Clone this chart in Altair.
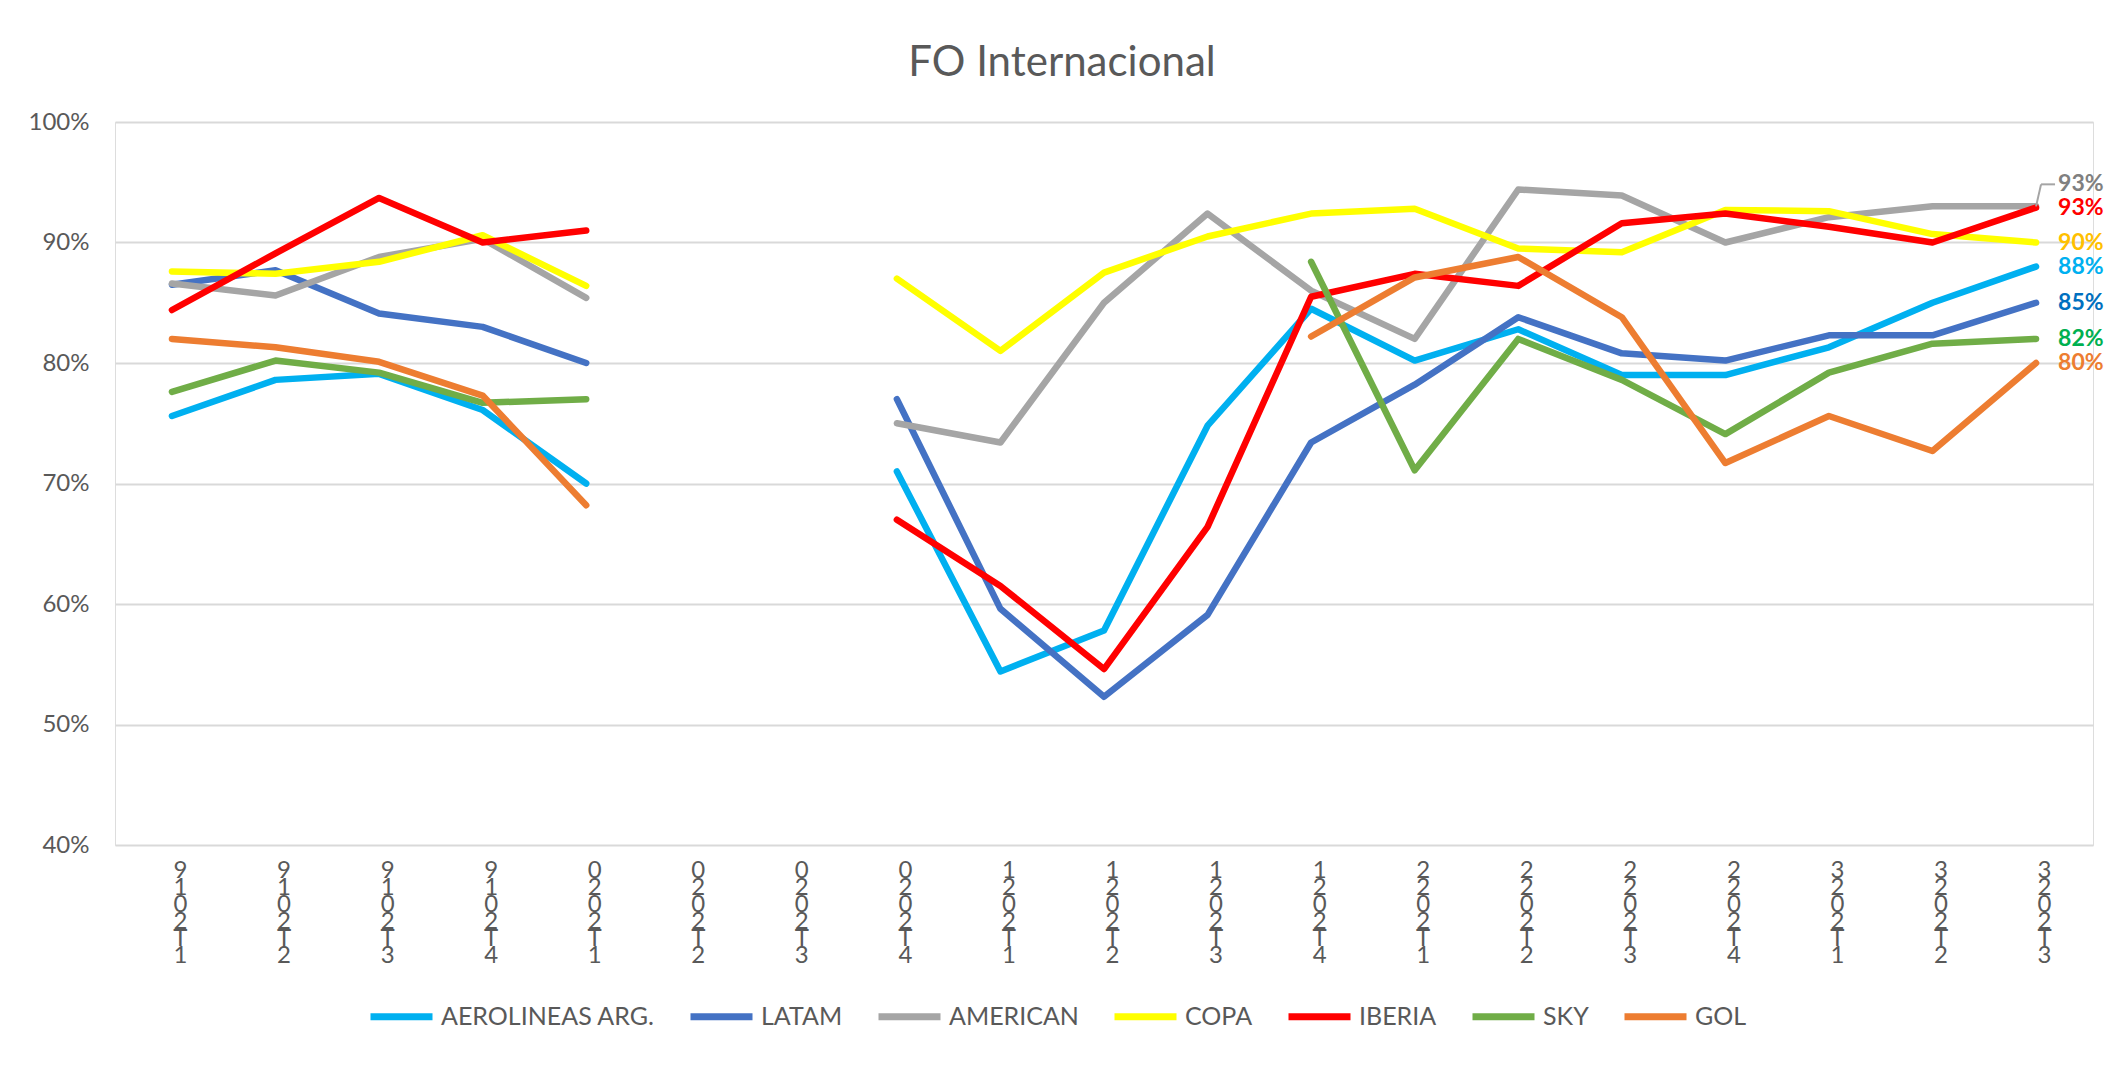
import altair as alt
import pandas as pd

periodos = ["2019-1", "2019-2", "2019-3", "2019-4", "2020-1", "2020-2", "2020-3", "2020-4",
            "2021-1", "2021-2", "2021-3", "2021-4", "2022-1", "2022-2", "2022-3", "2022-4",
            "2023-1", "2023-2", "2023-3"]

aerolineas_arg = [75.6, 78.6, 79.1, 76.1, 70.0, None, None, 71.0, 54.4, 57.8, 74.8, 84.5, 80.2, 82.8, 79.0, 79.0, 81.3, 85.0, 88.0]
latam = [86.5, 87.7, 84.1, 83.0, 80.0, None, None, 77.0, 59.6, 52.3, 59.1, 73.4, 78.2, 83.8, 80.8, 80.2, 82.3, 82.3, 85.0]
american = [86.6, 85.6, 88.8, 90.3, 85.4, None, None, 75.0, 73.4, 85.0, 92.4, 86.0, 82.0, 94.4, 93.9, 90.0, 92.1, 93.0, 93.0]
copa = [87.6, 87.4, 88.4, 90.6, 86.4, None, None, 87.0, 81.0, 87.5, 90.5, 92.4, 92.8, 89.5, 89.2, 92.7, 92.6, 90.7, 90.0]
iberia = [84.4, 89.1, 93.7, 90.0, 91.0, None, None, 67.0, 61.5, 54.6, 66.4, 85.5, 87.4, 86.4, 91.6, 92.4, 91.3, 90.0, 92.9]
sky = [77.6, 80.2, 79.2, 76.7, 77.0, None, None, None, None, None, None, 88.4, 71.1, 82.0, 78.6, 74.1, 79.2, 81.6, 82.0]
gol = [82.0, 81.3, 80.1, 77.3, 68.2, None, None, None, None, None, None, 82.2, 87.1, 88.8, 83.8, 71.7, 75.6, 72.7, 80.0]

series_names = ["AEROLINEAS ARG.", "LATAM", "AMERICAN", "COPA", "IBERIA", "SKY", "GOL"]
series_values = [aerolineas_arg, latam, american, copa, iberia, sky, gol]
line_colors = ["#00B0F0", "#4472C4", "#A5A5A5", "#FFFF00", "#FF0000", "#70AD47", "#ED7D31"]
label_colors = ["#00B0F0", "#0070C0", "#808080", "#FFC000", "#FF0000", "#00B050", "#ED7D31"]
y_ticks = [40, 50, 60, 70, 80, 90, 100]

rows = []
for name, vals in zip(series_names, series_values):
    for p, v in zip(periodos, vals):
        rows.append({"aerolinea": name, "periodo": p, "valor": v})
df = pd.DataFrame(rows)

FONT = "Lato"
GREY_TXT = "#595959"

x_enc = alt.X(
    "periodo:N", sort=periodos,
    scale=alt.Scale(type="point", padding=0.55),
    axis=alt.Axis(
        title=None, labelAngle=0, ticks=False, domain=False, grid=False,
        labelExpr="[substring(datum.value,3,4), substring(datum.value,2,3), substring(datum.value,1,2), substring(datum.value,0,1), 'T', substring(datum.value,5,6)]",
        labelFontSize=24, labelLineHeight=17, labelPadding=13, labelBaseline="top",
        labelOffset=8, labelColor=GREY_TXT, labelFont=FONT, labelOverlap=False,
    ),
)
y_enc = alt.Y(
    "valor:Q",
    scale=alt.Scale(domain=[40, 100], nice=False, zero=False),
    axis=alt.Axis(
        title=None, values=y_ticks, labelExpr="datum.value + '%'",
        grid=True, gridColor="#D9D9D9", gridWidth=2, domain=False, ticks=False,
        labelPadding=26, labelFontSize=24, labelColor=GREY_TXT, labelFont=FONT,
    ),
)

base = alt.Chart(df)

lines = base.mark_line(
    strokeWidth=6.5, strokeCap="round", strokeJoin="round",
    invalid="break-paths-show-domains",
).encode(
    x=x_enc, y=y_enc,
    color=alt.Color(
        "aerolinea:N", sort=series_names,
        scale=alt.Scale(domain=series_names, range=line_colors),
        legend=alt.Legend(
            title=None, orient="none", legendX=252, legendY=860,
            direction="horizontal", symbolType="stroke", symbolSize=3844,
            symbolStrokeWidth=7, labelFontSize=25, labelColor=GREY_TXT,
            labelFont=FONT, columnPadding=21, labelOffset=5, labelLimit=400,
        ),
    ),
)

last = base.transform_filter(
    f"datum.periodo == '{periodos[-1]}'"
).transform_calculate(
    etiqueta="format(datum.valor, '.0f') + '%'"
)

label_color = alt.Color(
    "aerolinea:N", scale=alt.Scale(domain=series_names, range=label_colors), legend=None
)

labels_main = last.transform_filter("datum.aerolinea != 'AMERICAN'").mark_text(
    align="left", baseline="middle", dx=22, fontSize=23, fontWeight="bold", font=FONT
).encode(x=alt.X("periodo:N", sort=periodos), y="valor:Q", text="etiqueta:N", color=label_color)

labels_am = last.transform_filter("datum.aerolinea == 'AMERICAN'").mark_text(
    align="left", baseline="middle", dx=22, dy=-22, fontSize=23, fontWeight="bold", font=FONT
).encode(x=alt.X("periodo:N", sort=periodos), y="valor:Q", text="etiqueta:N", color=label_color)

leader1 = last.transform_filter("datum.aerolinea == 'AMERICAN'").mark_rule(
    color="#A5A5A5", strokeWidth=2, x2Offset=5, y2Offset=-22
).encode(x=alt.X("periodo:N", sort=periodos), x2="periodo:N", y="valor:Q", y2="valor:Q")

leader2 = last.transform_filter("datum.aerolinea == 'AMERICAN'").mark_rule(
    color="#A5A5A5", strokeWidth=2, xOffset=5, x2Offset=19, yOffset=-22, y2Offset=-22
).encode(x=alt.X("periodo:N", sort=periodos), x2="periodo:N", y="valor:Q", y2="valor:Q")

chart = alt.layer(lines, leader1, leader2, labels_main, labels_am).resolve_scale(
    color="independent"
).properties(
    width=1978, height=723,
    title=alt.TitleParams(
        "FO Internacional", fontSize=42, font=FONT, color=GREY_TXT,
        fontWeight="normal", anchor="middle", offset=-8, dx=-42, baseline="alphabetic",
    ),
    autosize=alt.AutoSizeParams(type="none"),
    padding={"left": 107, "top": 114, "right": 20, "bottom": 205},
).configure_view(stroke=None).configure(background="white")

chart.save("out.html", embed_options={"renderer": "svg", "actions": False})
